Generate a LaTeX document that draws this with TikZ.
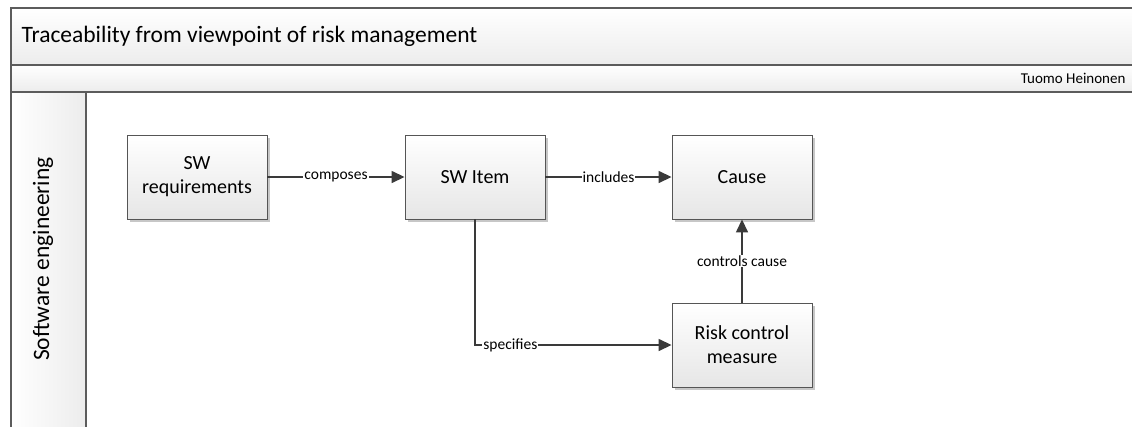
\documentclass[tikz,border=0pt]{standalone}
\usepackage{fontspec}
\setmainfont{Carlito}
\usetikzlibrary{arrows.meta,shadows}
\definecolor{frameline}{HTML}{5C5C5C}
\definecolor{boxline}{HTML}{555555}
\definecolor{boxgray}{HTML}{E6E6E6}
\definecolor{bandgray}{HTML}{ECECEC}
\definecolor{linkcol}{HTML}{3A3A3A}
\begin{document}
\begin{tikzpicture}[x=1pt,y=-1pt,
  stepbox/.style={draw=boxline, line width=0.9pt, top color=white, bottom color=boxgray,
    minimum width=140pt, minimum height=84pt, inner sep=0pt, align=center,
    font=\fontsize{20}{24}\selectfont,
    drop shadow={shadow xshift=3pt, shadow yshift=-3pt, fill=black!22, opacity=1}},
  link/.style={draw=linkcol, line width=1.5pt, -{Triangle[length=13pt,width=12pt]}},
  linklabel/.style={fill=white, inner sep=1pt, text=black, font=\fontsize{15.5}{18}\selectfont},
  band/.style={draw=frameline, line width=1.2pt, top color=white, bottom color=bandgray}]
\useasboundingbox (0,0) rectangle (1132,426);
\clip (0,0) rectangle (1132,426);

% pool frame: title band, author band and the lane header
\path[band] (11,8) rectangle (1145,65);
\path[band] (11,65) rectangle (1145,92);
\draw[frameline, line width=1.2pt, left color=white, right color=bandgray] (11,92) rectangle (86,440);
\node[anchor=west, font=\fontsize{23.5}{28}\selectfont] (title) at (18,36.5) {Traceability from viewpoint of risk management};
\node[anchor=east, font=\fontsize{15}{18}\selectfont] (author) at (1129,78.5) {Tuomo Heinonen};
\node[rotate=90, font=\fontsize{23.5}{28}\selectfont] (lane) at (43,259) {Software engineering};

% process boxes
\node[stepbox] (req) at (197,177) {SW\\requirements};
\node[stepbox] (item) at (475,177) {SW Item};
\node[stepbox] (cause) at (742,177) {Cause};
\node[stepbox] (risk) at (742,345) {Risk control\\measure};

% relations
\draw[link] (req) -- node[linklabel] {composes} (item);
\draw[link] (item) -- node[linklabel] {includes} (cause);
\draw[link] (item.south) |- node[linklabel, pos=0.59] {specifies} (risk.west);
\draw[link] (risk.north) -- node[linklabel] {controls cause} (cause.south);
\end{tikzpicture}
\end{document}
